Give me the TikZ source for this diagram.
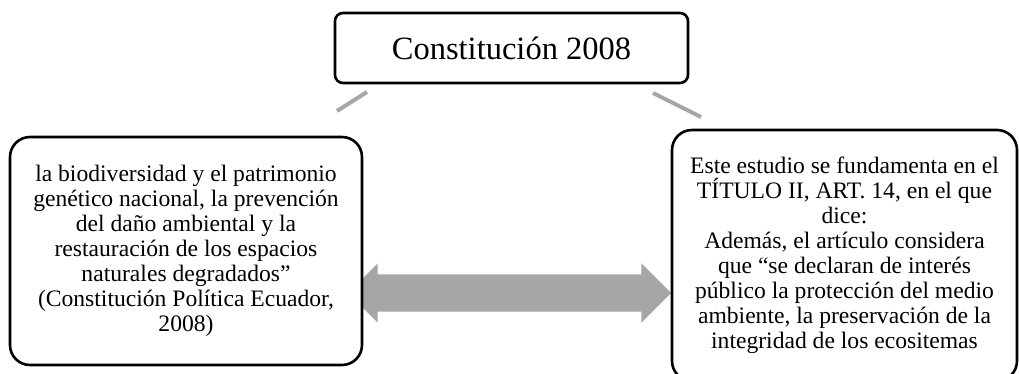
\documentclass[tikz,border=0pt]{standalone}
\usepackage{fontspec}
\setmainfont{Liberation Serif}
\usepackage{tikz}
\usetikzlibrary{shapes.arrows, positioning}
\tikzstyle{topbox} = [rectangle, rounded corners=8pt, minimum width=353pt, minimum height=70pt, inner sep=0pt, text centered, draw=black, line width=2.6pt, fill=white, font=\fontsize{32.5}{36}\selectfont]
\tikzstyle{textbox} = [rectangle, rounded corners=20pt, inner sep=0pt, align=center, draw=black, line width=2.6pt, fill=white, font=\fontsize{23.6}{25}\selectfont]
\tikzstyle{link} = [line width=4pt, draw=black!35]
\tikzstyle{bigarrow} = [double arrow, double arrow head extend=11pt, double arrow tip angle=90, inner xsep=0pt, inner ysep=18.5pt, minimum height=323pt, fill=black!35]

\begin{document}
\begin{tikzpicture}[node distance=203pt]
\useasboundingbox (0,0) rectangle (1019pt,-374pt);
\node (top) [topbox] at (511.5pt,-48pt) {Constitución 2008};
\node (both) [bigarrow, below of=top, xshift=-2pt, yshift=-42pt] {};
\node (left) [textbox, below of=top, xshift=-325.5pt, minimum width=352pt, minimum height=228pt] {la biodiversidad y el patrimonio\\ genético nacional, la prevención\\ del daño ambiental y la\\ restauración de los espacios\\ naturales degradados”\\ (Constitución Política Ecuador,\\ 2008)};
\node (right) [textbox, below of=top, xshift=333pt, yshift=-4.5pt, minimum width=345pt, minimum height=251pt] {Este estudio se fundamenta en el\\ TÍTULO II, ART. 14, en el que\\ dice:\\ Además, el artículo considera\\ que “se declaran de interés\\ público la protección del medio\\ ambiente, la preservación de la\\ integridad de los ecositemas};

\coordinate (l1) at (337pt,-111pt);
\coordinate (l2) at (367pt,-92pt);
\coordinate (r1) at (653pt,-93pt);
\coordinate (r2) at (701pt,-117pt);
\draw [link] (l1) -- (l2);
\draw [link] (r1) -- (r2);
\end{tikzpicture}
\end{document}
